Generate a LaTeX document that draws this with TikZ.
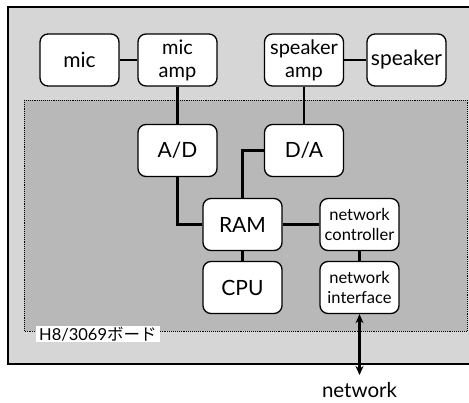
\documentclass[tikz,border=0pt]{standalone}
\usepackage{fontspec}
\setmainfont{Lato}
\newfontfamily\jpfont{Noto Sans CJK JP}
\usetikzlibrary{arrows.meta}
\definecolor{outergray}{HTML}{D6D6D6}
\definecolor{innergray}{HTML}{B8B8B8}
\tikzset{
  blk/.style={draw=black, line width=1.3pt, fill=white, rounded corners=8pt,
    minimum width=79pt, minimum height=52pt, inner sep=1pt, align=center,
    font=\fontsize{21}{23}\selectfont},
  blktwo/.style={blk, font=\fontsize{20}{23}\selectfont},
  blksmall/.style={blk, font=\fontsize{16.5}{20}\selectfont},
  wire/.style={line width=2.3pt},
}
\begin{document}
\begin{tikzpicture}[x=1pt,y=-1pt]
\useasboundingbox (0,0) rectangle (469,403);
\begin{scope}
\clip (0,0) rectangle (469,403);
\draw[fill=outergray, line width=1.3pt] (8,7) rectangle (480,364);
\fill[innergray] (24,100) rectangle (467,331);
\draw[densely dotted, line width=0.9pt] (24,100) rectangle (467,331);
\end{scope}
\node[blk] (mic) at (79.5,60) {mic};
\node[blktwo] (micamp) at (177.5,60) {mic\\amp};
\node[blktwo] (spkamp) at (304,60) {speaker\\amp};
\node[blk] (spk) at (406.5,60) {speaker};
\node[blk] (ad) at (177.5,150.5) {A/D};
\node[blk] (da) at (304,150.5) {D/A};
\node[blk] (ram) at (242.5,224.5) {RAM};
\node[blksmall] (nc) at (359.5,224.5) {network\\controller};
\node[blk] (cpu) at (242.5,287.5) {CPU};
\node[blksmall] (ni) at (359.5,287.5) {network\\interface};
\node[fill=white, inner xsep=3pt, inner ysep=0.5pt, anchor=west, font=\fontsize{16.5}{18}\selectfont] (board) at (36,334) {H8/3069{\jpfont ボード}};
\node[font=\fontsize{20.5}{22}\selectfont] (net) at (359.5,390) {network};
\coordinate (netend) at (359.5,375);
\draw[wire] (mic) -- (micamp);
\draw[wire] (spkamp) -- (spk);
\draw[wire] (micamp) -- (ad);
\draw[wire] (spkamp) -- (da);
\draw[wire] (ad.south) |- (ram.west);
\draw[wire] (da.west) -| (ram.north);
\draw[wire] (ram) -- (nc);
\draw[wire] (ram) -- (cpu);
\draw[wire] (nc) -- (ni);
\draw[wire, {Stealth[length=9pt,width=8pt]}-{Stealth[length=9pt,width=8pt]}] (ni.south) -- (netend);
\end{tikzpicture}
\end{document}
